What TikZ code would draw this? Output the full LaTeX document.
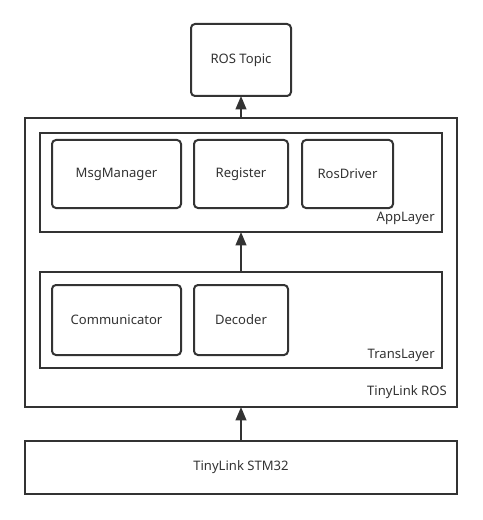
\documentclass[tikz,border=0pt]{standalone}
\usepackage{fontspec}
\setmainfont{Noto Sans}
\usetikzlibrary{arrows.meta}
\definecolor{ink}{HTML}{333333}
\begin{document}
\begin{tikzpicture}[x=0.75pt,y=-0.75pt,
  box/.style={draw=ink,line width=1.5pt,inner sep=0pt,outer sep=0pt,text=ink,font=\fontsize{9.8}{11}\selectfont},
  rbox/.style={box,rounded corners=3pt},
  lbl/.style={text=ink,inner sep=0pt,font=\fontsize{9.8}{11}\selectfont},
  arr/.style={draw=ink,line width=1.5pt,-{Triangle[length=10pt,width=8pt]}}]
\useasboundingbox[fill=white] (0,0) rectangle (482,520);
\node[rbox,minimum width=75pt,minimum height=54pt] (topic) at (241,60) {ROS Topic};
\node[box,minimum width=324pt,minimum height=216.75pt] (ros) at (241,262.5) {};
\node[box,minimum width=301.5pt,minimum height=74.25pt] (app) at (241,182.5) {};
\node[rbox,minimum width=96.75pt,minimum height=51pt] (msg) at (116.5,174) {MsgManager};
\node[rbox,minimum width=70.5pt,minimum height=51pt] (reg) at (241,174) {Register};
\node[rbox,minimum width=68.25pt,minimum height=51pt] (drv) at (347.5,174) {RosDriver};
\node[box,minimum width=301.5pt,minimum height=72pt] (trans) at (241,320) {};
\node[rbox,minimum width=96.75pt,minimum height=52.5pt] (comm) at (116.5,320) {Communicator};
\node[rbox,minimum width=70.5pt,minimum height=52.5pt] (dec) at (241,320) {Decoder};
\node[box,minimum width=324pt,minimum height=39.75pt] (stm) at (241,467.5) {TinyLink STM32};
\node[lbl,anchor=east] (applbl) at ([xshift=-5.25pt,yshift=10.5pt]app.south east) {AppLayer};
\node[lbl,anchor=east] (translbl) at ([xshift=-5.25pt,yshift=9.75pt]trans.south east) {TransLayer};
\node[lbl,anchor=east] (roslbl) at ([xshift=-7.5pt,yshift=11.25pt]ros.south east) {TinyLink ROS};
\draw[arr] (ros.north) -- (topic.south);
\draw[arr] (trans.north) -- (app.south);
\draw[arr] (stm.north) -- (ros.south);
\end{tikzpicture}
\end{document}
